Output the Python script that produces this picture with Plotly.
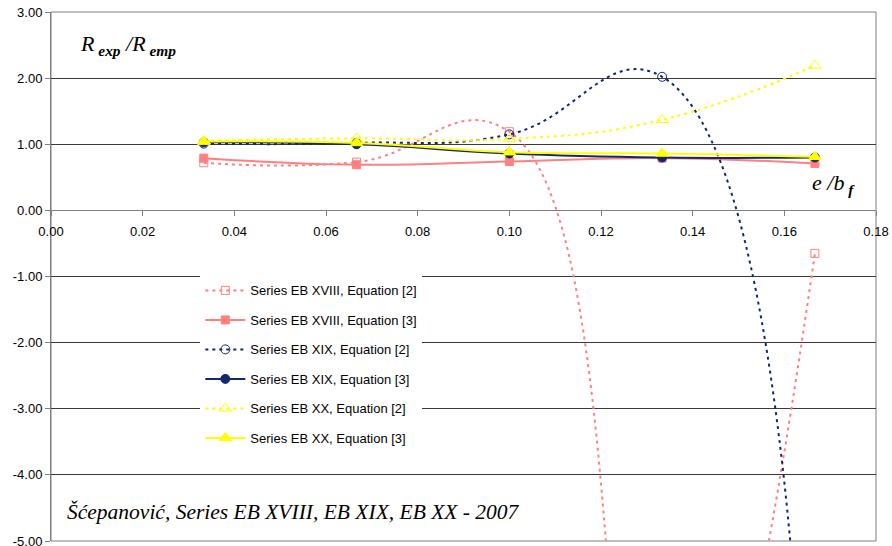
import plotly.graph_objects as go

# e/b_f ratios of the tested specimens
ratios = [1 / 30, 1 / 15, 0.10, 2 / 15, 1 / 6]

# R_exp / R_emp for each series and equation
eb18_eq2 = [0.72, 0.73, 1.19, -10.0, -0.65]
eb18_eq3 = [0.79, 0.69, 0.74, 0.79, 0.71]
eb19_eq2 = [1.01, 1.02, 1.15, 2.02, -12.0]
eb19_eq3 = [1.03, 1.00, 0.86, 0.80, 0.80]
eb20_eq2 = [1.05, 1.09, 1.08, 1.37, 2.19]
eb20_eq3 = [1.04, 1.02, 0.88, 0.86, 0.81]

names = [
    "Series EB XVIII, Equation [2]",
    "Series EB XVIII, Equation [3]",
    "Series EB XIX, Equation [2]",
    "Series EB XIX, Equation [3]",
    "Series EB XX, Equation [2]",
    "Series EB XX, Equation [3]",
]

y_ticks = [3, 2, 1, 0, -1, -2, -3, -4, -5]
x_ticks = [0.00, 0.02, 0.04, 0.06, 0.08, 0.10, 0.12, 0.14, 0.16, 0.18]

PINK = "#FF8080"
NAVY = "#12276E"
YELLOW = "#FFFF00"

styles = [
    dict(color=PINK, dash="3px,4px", width=2, symbol="square-open", size=8),
    dict(color=PINK, dash="solid", width=2, symbol="square", size=8),
    dict(color=NAVY, dash="3px,4px", width=2, symbol="circle-open", size=9),
    dict(color=NAVY, dash="solid", width=2, symbol="circle", size=9),
    dict(color=YELLOW, dash="3px,4px", width=2, symbol="triangle-up-open", size=11),
    dict(color=YELLOW, dash="solid", width=2, symbol="triangle-up", size=11),
]

series = [eb18_eq2, eb18_eq3, eb19_eq2, eb19_eq3, eb20_eq2, eb20_eq3]

fig = go.Figure()
for i, (vals, st, nm) in enumerate(zip(series, styles, names)):
    fig.add_trace(go.Scatter(
        x=ratios, y=vals, name=nm, mode="lines+markers",
        legendgroup=f"g{i}",
        line=dict(color=st["color"], dash=st["dash"], width=st["width"],
                  shape="spline", smoothing=1.3),
        marker=dict(symbol=st["symbol"], size=st["size"], color=st["color"],
                    line=dict(color=st["color"], width=1)),
        cliponaxis=True,
    ))

tick_font = dict(family="Liberation Sans, Arial, sans-serif", size=13, color="#000000")

fig.update_layout(
    width=892, height=546,
    margin=dict(l=51, r=16, t=12, b=5, autoexpand=False),
    paper_bgcolor="white", plot_bgcolor="white",
    showlegend=True,
    legend=dict(
        x=0.181, y=0.502, xanchor="left", yanchor="top",
        bgcolor="white", borderwidth=0,
        font=dict(family="Liberation Sans, Arial, sans-serif", size=13, color="#000000"),
        tracegroupgap=9.6, itemwidth=40,
        traceorder="grouped",
    ),
    xaxis=dict(
        range=[0, 0.18], tickvals=x_ticks,
        ticktext=[f"{v:.2f}" for v in x_ticks],
        anchor="free", position=0.625,
        showline=True, linecolor="#7f7f7f", linewidth=1,
        ticks="outside", ticklen=5, tickcolor="#7f7f7f",
        ticklabelstandoff=4, automargin=False,
        showgrid=False, zeroline=False,
        tickfont=tick_font,
    ),
    yaxis=dict(
        range=[-5, 3], tickvals=y_ticks,
        ticktext=[f"{v:.2f}" for v in y_ticks],
        showline=True, linecolor="#7f7f7f", linewidth=1,
        ticks="outside", ticklen=5, tickcolor="#7f7f7f",
        ticklabeloverflow="allow", automargin=False,
        showgrid=True, gridcolor="#3a3a3a", gridwidth=1,
        zeroline=False,
        tickfont=tick_font,
    ),
    shapes=[dict(type="rect", xref="paper", yref="paper", x0=0, x1=1, y0=0, y1=1,
                 line=dict(color="#7f7f7f", width=1), layer="below")],
)

serif = "Liberation Serif, Times New Roman, serif"
fig.add_annotation(
    xref="paper", yref="paper", x=0.033, y=0.938, xanchor="left", yanchor="middle",
    text="<i>R</i><sub><b><i> exp</i></b></sub><i> /R</i><sub><b><i> emp</i></b></sub>",
    showarrow=False, font=dict(family=serif, size=22, color="#000000"),
)
fig.add_annotation(
    xref="paper", yref="paper", x=0.92, y=0.675, xanchor="left", yanchor="middle",
    text="<i>e /b</i><sub><b><i> f</i></b></sub>",
    showarrow=False, font=dict(family=serif, size=22, color="#000000"),
)
fig.add_annotation(
    xref="paper", yref="paper", x=0.017, y=0.055, xanchor="left", yanchor="middle",
    text="<i>Šćepanović, Series EB XVIII, EB XIX, EB XX - 2007</i>",
    showarrow=False, font=dict(family=serif, size=21.5, color="#000000"),
)

fig.write_html("out.html")
